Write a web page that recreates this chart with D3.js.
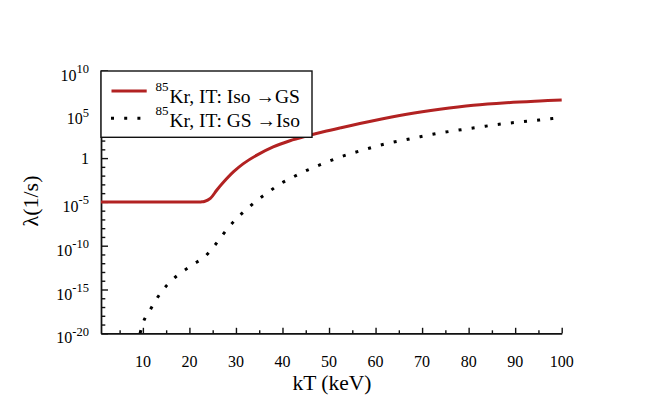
<!DOCTYPE html>
<html>
<head>
<meta charset="utf-8">
<script src="https://cdn.jsdelivr.net/npm/d3@7"></script>
<style>
  body { margin: 0; background: #fff; }
  svg, svg text { font-family: "Liberation Serif", "Times New Roman", serif; }
</style>
</head>
<body>
<div id="chart"></div>
<script>
// Iso -> GS (solid red), values as log10(lambda)
const isoKT = [1, 10, 20, 22.5, 23.2, 24.5, 25.9, 27.3, 29.5, 31.6, 34.5, 38, 41.6, 45.2, 48.8, 52.4, 59.5, 66.7, 73.8, 81, 88.1, 95.3, 100];
const isoLogRate = [-5, -5, -5, -5, -4.95, -4.6, -3.64, -2.76, -1.55, -0.63, 0.34, 1.28, 1.98, 2.52, 3.01, 3.45, 4.27, 5.0, 5.57, 6.03, 6.32, 6.52, 6.63];

// GS -> Iso (dotted black)
const gsKT = [9.4, 10.0, 11.4, 12.8, 14.4, 16.3, 18.5, 20.9, 23.2, 25.1, 26.8, 28.6, 30.5, 32.6, 34.7, 37.1, 39.3, 41.8, 44.4, 47.0, 49.6, 52.0, 54.9, 57.6, 60.3, 63.1, 65.9, 68.6, 71.4, 74.2, 77.0, 79.8, 82.6, 85.3, 88.1, 90.9, 93.7, 96.6, 100];
const gsLogRate = [-20, -18.86, -17.5, -16.2, -15.0, -13.9, -12.97, -12.1, -11.3, -10.2, -9.0, -7.8, -6.7, -5.7, -4.75, -3.84, -3.0, -2.3, -1.6, -1.0, -0.44, 0.05, 0.55, 0.96, 1.38, 1.74, 2.04, 2.33, 2.63, 2.9, 3.13, 3.35, 3.56, 3.77, 3.96, 4.12, 4.27, 4.43, 4.62];

// ticks
const xTicks = [10, 20, 30, 40, 50, 60, 70, 80, 90, 100];
const xMinorTicks = [5, 15, 25, 35, 45, 55, 65, 75, 85, 95];
const yTickExps = [-20, -15, -10, -5, 0, 5, 10];

const legendLabels = ["Kr, IT: Iso \u2192GS", "Kr, IT: GS \u2192Iso"];
const legendSup = "85";

const red = "#b22222";
const font = "'Liberation Serif', 'Times New Roman', serif";

///////////////////////////////
// svg + scales
const svg = d3.select("#chart").append("svg")
  .attr("width", 664)
  .attr("height", 402)
  .attr("font-family", font);

const x = d3.scaleLinear().domain([1, 100]).range([101, 561.7]);
const y = d3.scaleLog().domain([1e-20, 1e10]).range([333.3, 70.5]);

svg.append("clipPath").attr("id", "plot-clip")
  .append("rect")
  .attr("x", 101).attr("y", 60)
  .attr("width", 470).attr("height", 333.3 - 60);

///////////////////////////////
// axes
const yMinor = d3.range(-20, 11).filter(e => e % 5 !== 0).map(e => Math.pow(10, e));

svg.append("g")
  .attr("class", "axis")
  .attr("transform", "translate(101,0)")
  .call(d3.axisLeft(y).tickValues(yMinor).tickSize(-4.3).tickSizeOuter(0).tickFormat(""));
svg.append("g")
  .attr("class", "axis")
  .attr("transform", "translate(101,0)")
  .call(d3.axisLeft(y).tickValues(yTickExps.map(e => Math.pow(10, e))).tickSize(-7).tickSizeOuter(0).tickFormat(""));

svg.append("g")
  .attr("class", "axis")
  .attr("transform", "translate(0,333.3)")
  .call(d3.axisBottom(x).tickValues(xMinorTicks).tickSize(-3).tickSizeOuter(0).tickFormat(""));
svg.append("g")
  .attr("class", "axis")
  .attr("transform", "translate(0,333.3)")
  .call(d3.axisBottom(x).tickValues(xTicks).tickSize(-5.5).tickSizeOuter(0).tickFormat(""));

svg.selectAll(".axis path, .axis line")
  .attr("stroke", "#111")
  .attr("stroke-width", 1.4);

// x tick labels
svg.append("g").selectAll("text")
  .data(xTicks)
  .enter()
  .append("text")
  .attr("x", d => x(d))
  .attr("y", 367)
  .attr("text-anchor", "middle")
  .attr("font-size", 16)
  .text(d => d);

// y tick labels (10^n)
const yLab = svg.append("g").selectAll("text")
  .data(yTickExps)
  .enter()
  .append("text")
  .attr("x", 89)
  .attr("y", d => y(Math.pow(10, d)) + (d === 0 ? 6 : 10))
  .attr("text-anchor", "end")
  .attr("font-size", 16);
yLab.filter(d => d === 0).text("1");
yLab.filter(d => d !== 0).append("tspan").text("10");
yLab.filter(d => d !== 0).append("tspan")
  .attr("dy", -7.5)
  .attr("font-size", 12.5)
  .text(d => d);

// axis titles
svg.append("text")
  .attr("x", 332)
  .attr("y", 389.5)
  .attr("text-anchor", "middle")
  .attr("font-size", 21.5)
  .text("kT (keV)");

svg.append("text")
  .attr("transform", "translate(38,201) rotate(-90)")
  .attr("text-anchor", "middle")
  .attr("font-size", 22)
  .text("\u03bb(1/s)");

///////////////////////////////
// curves
const line = d3.line()
  .x(d => x(d[0]))
  .y(d => y(Math.pow(10, d[1])))
  .curve(d3.curveMonotoneX);

const plot = svg.append("g").attr("clip-path", "url(#plot-clip)");

plot.append("path")
  .datum(d3.zip(gsKT, gsLogRate))
  .attr("fill", "none")
  .attr("stroke", "#000")
  .attr("stroke-width", 3)
  .attr("stroke-dasharray", "3,10.2")
  .attr("d", line);

plot.append("path")
  .datum(d3.zip(isoKT, isoLogRate))
  .attr("fill", "none")
  .attr("stroke", red)
  .attr("stroke-width", 3)
  .attr("d", line.curve(d3.curveCatmullRom.alpha(0.5)));

///////////////////////////////
// legend
const legend = svg.append("g");
legend.append("rect")
  .attr("x", 101).attr("y", 71)
  .attr("width", 211).attr("height", 66.3)
  .attr("fill", "#fff")
  .attr("stroke", "#111")
  .attr("stroke-width", 1.4);

legend.append("line")
  .attr("x1", 111.5).attr("x2", 146.7)
  .attr("y1", 91).attr("y2", 91)
  .attr("stroke", red)
  .attr("stroke-width", 3);
legend.append("line")
  .attr("x1", 111).attr("x2", 146.7)
  .attr("y1", 118.3).attr("y2", 118.3)
  .attr("stroke", "#000")
  .attr("stroke-width", 3)
  .attr("stroke-dasharray", "3,10.2");

legendLabels.forEach(function (lab, i) {
  const base = 102.7 + i * 24.6;
  legend.append("text")
    .attr("x", 155.5).attr("y", base - 12)
    .attr("font-size", 13)
    .text(legendSup);
  legend.append("text")
    .attr("x", 169.5).attr("y", base)
    .attr("font-size", 19.5)
    .text(lab);
});
</script>
</body>
</html>
